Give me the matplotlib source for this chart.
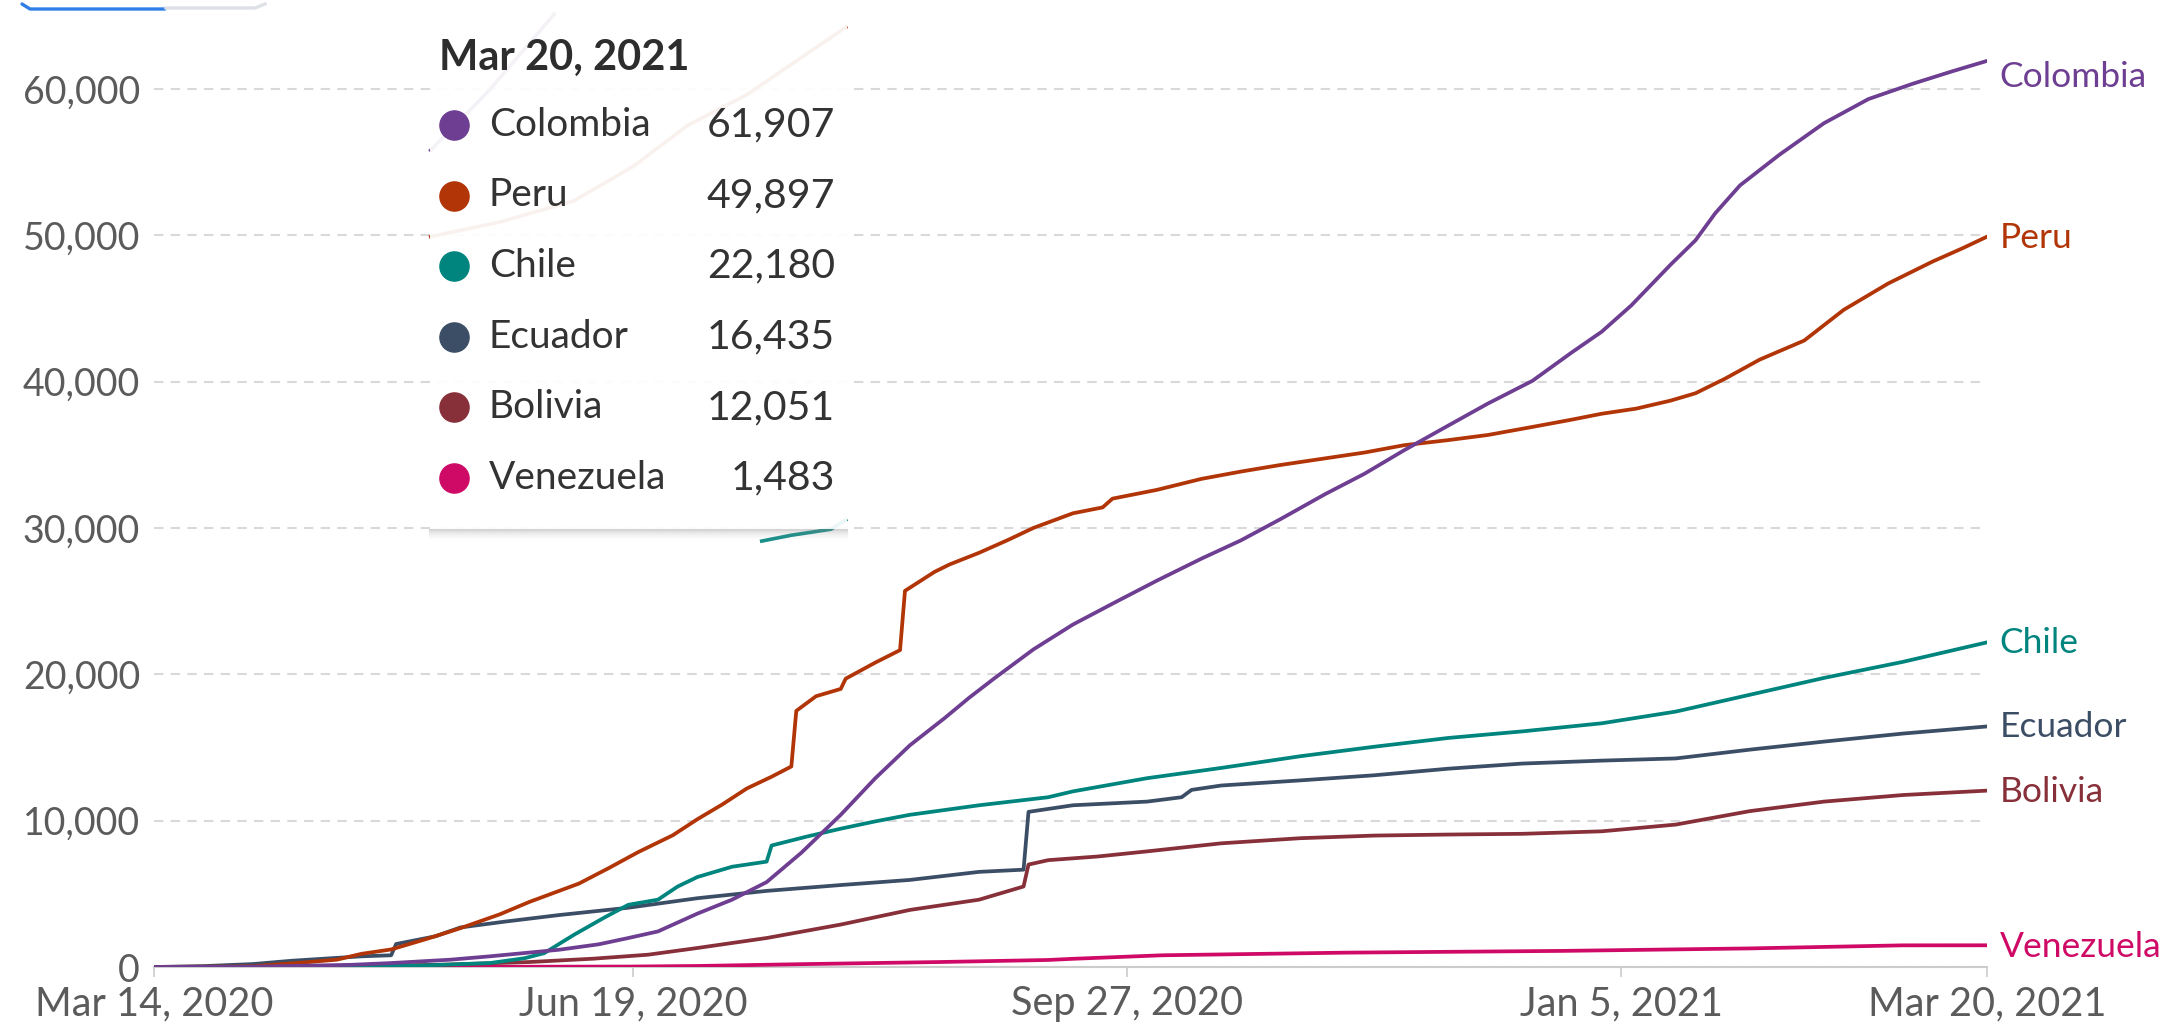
import matplotlib
matplotlib.use("Agg")
import matplotlib.pyplot as plt
import numpy as np
from matplotlib.patches import Rectangle
from matplotlib.lines import Line2D

plt.rcParams['font.family'] = ['Lato', 'DejaVu Sans']

# x values are days since Mar 14, 2020
start = np.datetime64('2020-03-14')

peru_days = [0, 20, 30, 37, 42, 48, 55, 62, 70, 76, 86, 92, 98, 105, 110, 115, 120, 125, 129, 130,
             134, 139, 140, 146, 151, 152, 158, 161, 167, 173, 178, 186, 192, 194, 203, 212, 220, 228,
             237, 245, 253, 262, 270, 279, 287, 293, 300, 307, 312, 318, 325, 334, 342, 351, 360, 366, 371]
peru_vals = [0, 50, 300, 500, 900, 1200, 1900, 2650, 3600, 4450, 5700, 6750, 7850, 9000, 10100, 11100,
             12200, 13000, 13700, 17500, 18500, 19000, 19700, 20800, 21650, 25700, 27000, 27500, 28300,
             29200, 30000, 31000, 31400, 32000, 32600, 33350, 33850, 34300, 34750, 35150, 35650, 36000,
             36350, 36900, 37400, 37800, 38150, 38700, 39200, 40200, 41500, 42800, 44900, 46700, 48200,
             49100, 49897]

colombia_days = [0, 20, 40, 48, 60, 68, 82, 90, 96, 102, 110, 117, 124, 131, 139, 146, 153, 160, 165,
                 170, 178, 186, 195, 203, 212, 220, 228, 237, 245, 253, 262, 270, 279, 287, 293, 299,
                 307, 312, 316, 321, 329, 338, 347, 356, 364, 371]
colombia_vals = [0, 20, 150, 270, 500, 730, 1180, 1550, 1980, 2430, 3650, 4600, 5800, 7800, 10400,
                 12900, 15150, 17000, 18400, 19700, 21700, 23400, 25000, 26400, 27900, 29150, 30600,
                 32300, 33700, 35300, 37000, 38500, 40050, 42000, 43400, 45200, 48000, 49650, 51500,
                 53400, 55500, 57650, 59300, 60350, 61200, 61907]

chile_days = [0, 30, 54, 68, 75, 79, 85, 91, 96, 102, 106, 110, 117, 124, 125, 132, 139, 146, 153,
              167, 181, 186, 201, 216, 232, 247, 262, 277, 293, 308, 323, 338, 354, 371]
chile_vals = [0, 30, 100, 270, 600, 950, 2200, 3350, 4250, 4600, 5500, 6150, 6850, 7200, 8300, 8900,
              9450, 9950, 10400, 11050, 11600, 12000, 12900, 13600, 14400, 15050, 15650, 16100, 16650,
              17450, 18600, 19750, 20850, 22180]

ecuador_days = [0, 10, 20, 28, 42, 48, 49, 57, 62, 71, 82, 96, 110, 124, 139, 153, 167, 176, 177,
                186, 201, 208, 210, 216, 232, 247, 262, 277, 293, 308, 323, 338, 354, 371]
ecuador_vals = [0, 60, 200, 430, 730, 800, 1570, 2100, 2700, 3100, 3550, 4050, 4700, 5200, 5600,
                5950, 6500, 6650, 10600, 11050, 11300, 11600, 12100, 12400, 12750, 13100, 13550,
                13900, 14100, 14250, 14850, 15400, 15950, 16435]

bolivia_days = [0, 40, 59, 76, 89, 100, 110, 124, 139, 153, 167, 176, 177, 181, 191, 201, 216, 232,
                247, 262, 277, 293, 308, 323, 338, 354, 371]
bolivia_vals = [0, 50, 160, 340, 570, 840, 1300, 1980, 2900, 3900, 4600, 5500, 7000, 7300, 7550,
                7900, 8450, 8800, 8980, 9050, 9100, 9270, 9730, 10650, 11300, 11750, 12051]

venezuela_days = [0, 60, 96, 110, 132, 159, 181, 186, 204, 241, 285, 323, 354, 371]
venezuela_vals = [0, 10, 30, 70, 200, 340, 480, 560, 800, 980, 1100, 1270, 1480, 1483]

# faint lines showing through the tooltip (animation leftovers)
ghost_colombia_days = [56, 68, 81]
ghost_colombia_vals = [55800, 59950, 65100]
ghost_peru_days = [56, 70, 85, 97, 108, 120, 132, 140]
ghost_peru_vals = [49900, 50900, 52350, 54700, 57500, 59600, 62360, 64200]
ghost_chile_days = [123, 129, 137, 140]
ghost_chile_vals = [29100, 29500, 29910, 30540]

countries = ['Colombia', 'Peru', 'Chile', 'Ecuador', 'Bolivia', 'Venezuela']
colors = ['#6D3E91', '#B13507', '#00847E', '#3C4E66', '#883039', '#CF0A66']
latest = [61907, 49897, 22180, 16435, 12051, 1483]
label_y = [60800, 49800, 22150, 16400, 11980, 1400]

tick_dates = ['2020-03-14', '2020-06-19', '2020-09-27', '2021-01-05', '2021-03-20']
tick_labels = ['Mar 14, 2020', 'Jun 19, 2020', 'Sep 27, 2020', 'Jan 5, 2021', 'Mar 20, 2021']
y_ticks = [0, 10000, 20000, 30000, 40000, 50000, 60000]

series = {
    'Colombia': (colombia_days, colombia_vals),
    'Peru': (peru_days, peru_vals),
    'Chile': (chile_days, chile_vals),
    'Ecuador': (ecuador_days, ecuador_vals),
    'Bolivia': (bolivia_days, bolivia_vals),
    'Venezuela': (venezuela_days, venezuela_vals),
}

W, H = 2182, 1028
fig = plt.figure(figsize=(W / 100, H / 100), dpi=100)
ax = fig.add_axes([154 / W, 61 / H, (1987 - 154) / W, 966 / H])

def fx(px):
    return px / W

def fy(py):
    return 1 - py / H

def to_dates(days):
    return start + np.array(days).astype('timedelta64[D]')

# ghost lines first, tooltip box goes over them
for d, v, c in [(ghost_colombia_days, ghost_colombia_vals, colors[0]),
                (ghost_peru_days, ghost_peru_vals, colors[1]),
                (ghost_chile_days, ghost_chile_vals, colors[2])]:
    ax.plot(to_dates(d), v, color=c, lw=2.6, alpha=0.9, zorder=2, clip_on=False)

# lower lines first
for name in ['Venezuela', 'Bolivia', 'Ecuador', 'Chile', 'Peru', 'Colombia']:
    d, v = series[name]
    c = colors[countries.index(name)]
    ax.plot(to_dates(d), v, color=c, lw=2.7, solid_joinstyle='round', zorder=3)

end = np.datetime64('2021-03-20')
for name, c, ly in zip(countries, colors, label_y):
    ax.annotate(name, xy=(end, ly), xytext=(9, 0), textcoords='offset points',
                color=c, fontsize=25.5, va='center', ha='left', annotation_clip=False)

ax.set_xlim(start, end)
ax.set_ylim(0, 66000)
ax.set_yticks(y_ticks)
ax.set_yticklabels([f'{t:,}' for t in y_ticks])
ax.set_xticks([np.datetime64(t) for t in tick_dates])
ax.set_xticklabels(tick_labels)
ax.tick_params(axis='y', length=0, pad=10, labelsize=27, labelcolor='#5b5b5b')
ax.tick_params(axis='x', length=7, width=1.2, color='#cccccc', pad=6, labelsize=28.5,
               labelcolor='#5b5b5b')
ax.yaxis.grid(True, color='#d9d9d9', linestyle=(0, (4.5, 3.5)), lw=1.5)
ax.set_axisbelow(True)
for s in ['top', 'right', 'left']:
    ax.spines[s].set_visible(False)
ax.spines['bottom'].set_color('#cccccc')
ax.spines['bottom'].set_linewidth(1.5)

# tooltip box
box = Rectangle((fx(430), fy(529)), fx(847) - fx(430), fy(-20) - fy(529),
                transform=fig.transFigure, facecolor='white', alpha=0.93,
                edgecolor='none', zorder=5)
fig.add_artist(box)
for i, a in enumerate([0.35, 0.22, 0.14, 0.08, 0.04]):
    fig.add_artist(Line2D([fx(430), fx(847)], [fy(530 + 2 * i)] * 2, transform=fig.transFigure,
                          color='#888888', alpha=a, lw=1.5, zorder=5))

fig.text(fx(439), fy(58), 'Mar 20, 2021', fontsize=30, fontweight='bold', color='#2d2d2d',
         ha='left', va='center', zorder=6)
row_y = [125, 195.5, 266, 337, 407.5, 478]
for name, c, val, ry in zip(countries, colors, latest, row_y):
    fig.add_artist(Line2D([fx(453.5)], [fy(ry)], transform=fig.transFigure, marker='o',
                          markersize=21, color=c, lw=0, zorder=6))
    fig.text(fx(489), fy(ry), name, fontsize=28, color='#333333', ha='left', va='center',
             zorder=6)
    fig.text(fx(835), fy(ry), f'{val:,}', fontsize=29.5, color='#333333', ha='right',
             va='center', zorder=6)

# clipped tab control at top-left
fig.add_artist(Line2D([fx(22), fx(30), fx(165)], [fy(4), fy(9), fy(9)], transform=fig.transFigure,
                      color='#2f7fe6', lw=2.4, zorder=6, solid_capstyle='round'))
fig.add_artist(Line2D([fx(166), fx(255), fx(265)], [fy(8), fy(8), fy(4)],
                      transform=fig.transFigure, color='#dde1e6', lw=2.4, zorder=6))

fig.savefig('out.png', dpi=100)
